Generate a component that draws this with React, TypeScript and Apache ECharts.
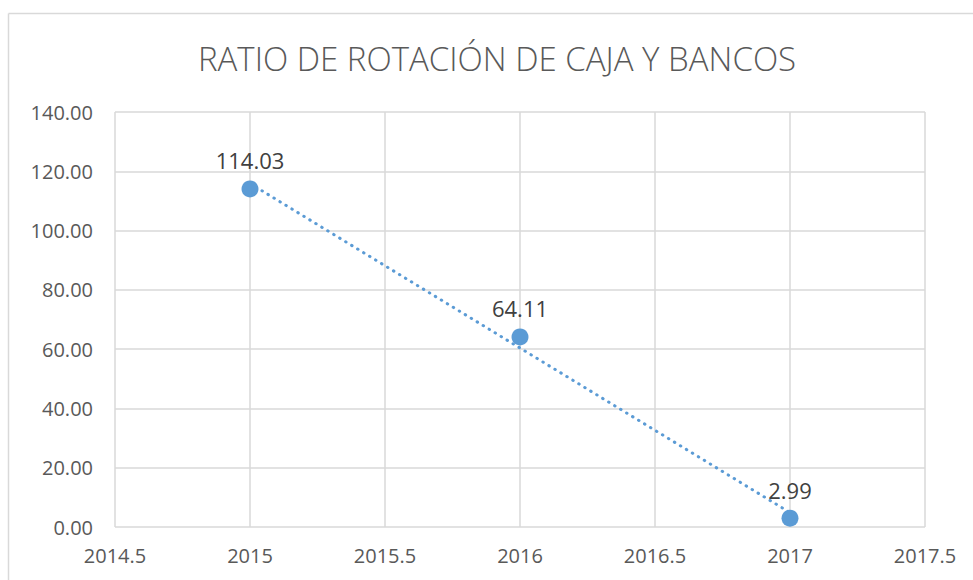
import React, { useEffect, useRef } from "react";
import * as echarts from "echarts";

const TITLE = "RATIO DE ROTACIÓN DE CAJA Y BANCOS";
const years = [2015, 2016, 2017];
const ratios = [114.03, 64.11, 2.99];
// linear trendline endpoints
const trendYears = [2015, 2017];
const trendValues = [115.9, 4.86];

export default function App() {
  const ref = useRef<HTMLDivElement>(null);
  useEffect(() => {
    document.body.style.margin = "0";
    const chart = echarts.init(ref.current!, null, { renderer: "svg" });
    const font = "'Open Sans', sans-serif";
    chart.setOption({
      animation: false,
      backgroundColor: "#ffffff",
      graphic: [
        { type: "line", shape: { x1: 8.5, y1: 13.5, x2: 973, y2: 13.5 }, style: { stroke: "#d9d9d9", lineWidth: 1.5 } },
        { type: "line", shape: { x1: 8.5, y1: 13.5, x2: 8.5, y2: 580 }, style: { stroke: "#d9d9d9", lineWidth: 1.5 } },
        {
          type: "text",
          x: 497,
          y: 58,
          style: {
            text: TITLE,
            fontFamily: font,
            fontSize: 33,
            fontWeight: 300,
            fill: "#595959",
            align: "center",
            verticalAlign: "middle",
          },
        },
      ],
      grid: { left: 115, right: 48, top: 112, bottom: 53, containLabel: false },
      xAxis: {
        type: "value",
        min: 2014.5,
        max: 2017.5,
        interval: 0.5,
        axisLine: { show: false },
        axisTick: { show: false },
        axisLabel: { fontFamily: font, fontSize: 20, color: "#595959", margin: 18, formatter: (v: number) => String(v) },
        splitLine: { show: true, lineStyle: { color: "#d9d9d9", width: 1.5 } },
      },
      yAxis: {
        type: "value",
        min: 0,
        max: 140,
        interval: 20,
        axisLine: { show: false },
        axisTick: { show: false },
        axisLabel: { fontFamily: font, fontSize: 20, color: "#595959", margin: 22, formatter: (v: number) => v.toFixed(2) },
        splitLine: { show: true, lineStyle: { color: "#d9d9d9", width: 1.5 } },
      },
      series: [
        {
          type: "line",
          data: trendYears.map((y, i) => [y, trendValues[i]]),
          symbol: "none",
          lineStyle: { color: "#5B9BD5", width: 3, type: [0.5, 6.5], cap: "round" },
          z: 2,
          silent: true,
        },
        {
          type: "scatter",
          data: years.map((y, i) => [y, ratios[i]]),
          symbol: "circle",
          symbolSize: 17,
          itemStyle: { color: "#5B9BD5", opacity: 1 },
          label: {
            show: true,
            position: "top",
            distance: 9,
            fontFamily: font,
            fontSize: 22,
            color: "#404040",
            formatter: (p: any) => p.value[1].toFixed(2),
          },
          z: 3,
        },
      ],
    });
    return () => chart.dispose();
  }, []);
  return <div ref={ref} style={{ width: 973, height: 580 }} />;
}
